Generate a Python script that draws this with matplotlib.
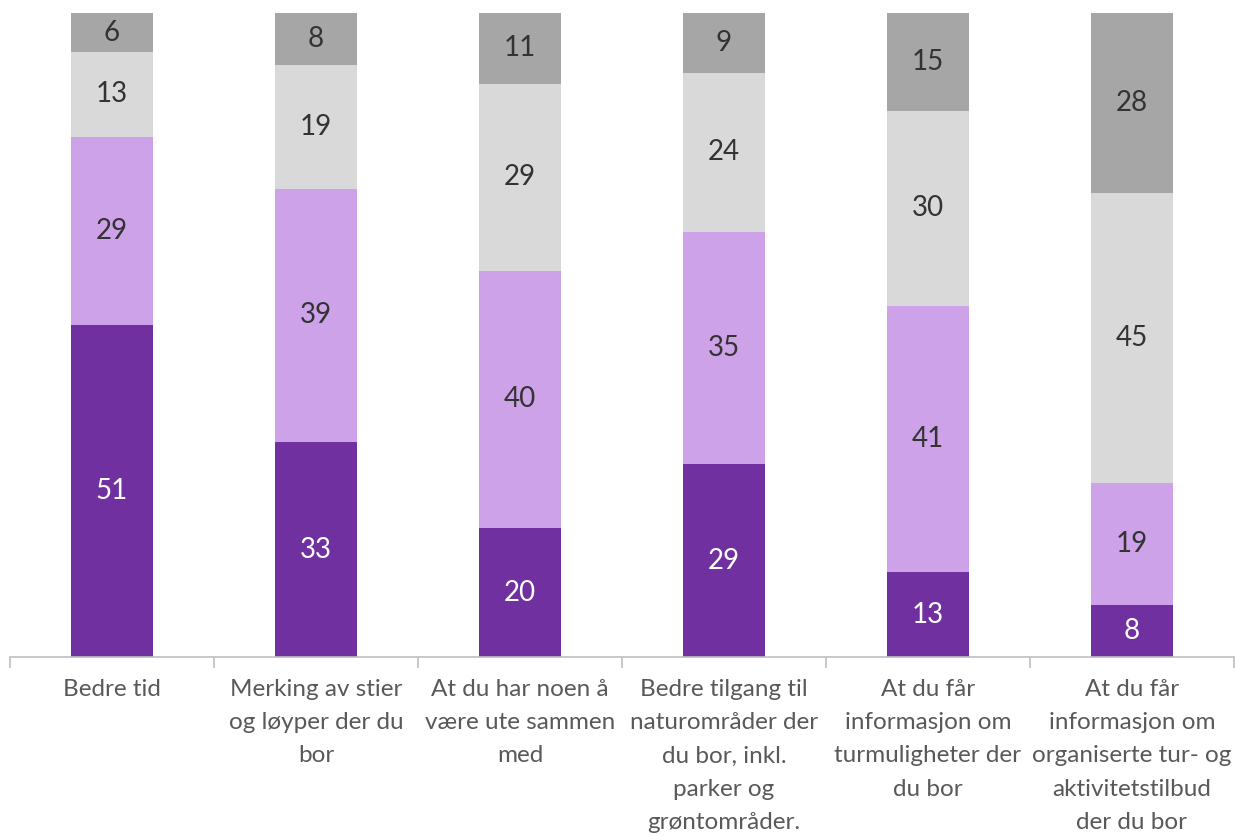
import matplotlib.pyplot as plt
import numpy as np

plt.rcParams["font.family"] = ["Lato", "DejaVu Sans"]

categories = [
    "Bedre tid",
    "Merking av stier\nog løyper der du\nbor",
    "At du har noen å\nvære ute sammen\nmed",
    "Bedre tilgang til\nnaturområder der\ndu bor, inkl.\nparker og\ngrøntområder.",
    "At du får\ninformasjon om\nturmuligheter der\ndu bor",
    "At du får\ninformasjon om\norganiserte tur- og\naktivitetstilbud\nder du bor",
]

# bottom to top
level_1 = [51, 33, 20, 29, 13, 8]
level_2 = [29, 39, 40, 35, 41, 19]
level_3 = [13, 19, 29, 24, 30, 45]
level_4 = [6, 8, 11, 9, 15, 28]

series = [level_1, level_2, level_3, level_4]
colors = ["#7030A0", "#CDA2E8", "#D9D9D9", "#A6A6A6"]
text_colors = ["white", "#333333", "#333333", "#333333"]

values = np.array(series, dtype=float)
shares = values / values.sum(axis=0) * 100

fig = plt.figure(figsize=(12.36, 8.36), dpi=100)
ax = fig.add_axes([10 / 1236, 179 / 836, 1224 / 1236, 644 / 836])

x = np.arange(len(categories))
bottom = np.zeros(len(categories))

for share, raw, color, text_color in zip(shares, values, colors, text_colors):
    ax.bar(x, share, bottom=bottom, width=0.4, color=color, linewidth=0)
    for xi, b, h, v in zip(x, bottom, share, raw):
        ax.text(
            xi,
            b + h / 2,
            f"{v:.0f}",
            ha="center",
            va="center",
            fontsize=20,
            color=text_color,
        )
    bottom += share

ax.set_xlim(-0.5, len(categories) - 0.5)
ax.set_ylim(0, 100)

for side in ["top", "right", "left"]:
    ax.spines[side].set_visible(False)
ax.spines["bottom"].set_color("#BFBFBF")
ax.spines["bottom"].set_linewidth(1.2)

ax.set_yticks([])
ax.set_xticks(np.arange(-0.5, len(categories)), minor=False)
ax.set_xticklabels([])
ax.tick_params(axis="x", which="major", length=8, width=1.2, color="#BFBFBF")

for xi, label in zip(x, categories):
    ax.annotate(
        label,
        xy=(xi, 0),
        xycoords=("data", "axes fraction"),
        xytext=(0, -22),
        textcoords="offset pixels",
        ha="center",
        va="top",
        fontsize=17.5,
        color="#595959",
        linespacing=1.72,
    )

fig.savefig("out.png", dpi=100)
